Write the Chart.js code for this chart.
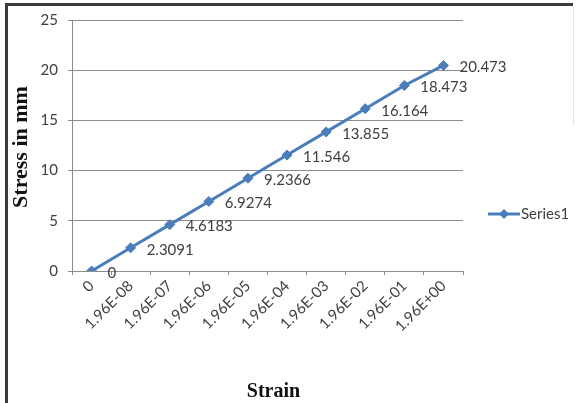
<!DOCTYPE html>
<html>
<head>
<meta charset="utf-8">
<script src="https://cdn.jsdelivr.net/npm/chart.js@4/dist/chart.umd.min.js"></script>
<style>
  html, body { margin: 0; padding: 0; background: #fff; }
  #wrap { width: 576px; height: 403px; position: relative; }
</style>
</head>
<body>
<div id="wrap"><canvas id="c" width="576" height="403"></canvas></div>
<script>
// Strain categories along the x axis
const strainLabels = ['0', '1.96E-08', '1.96E-07', '1.96E-06', '1.96E-05', '1.96E-04',
                      '1.96E-03', '1.96E-02', '1.96E-01', '1.96E+00'];
// Stress values for each strain step
const stressValues = [0, 2.3091, 4.6183, 6.9274, 9.2366, 11.546, 13.855, 16.164, 18.473, 20.473];
const seriesName = 'Series1';
const yTitle = 'Stress in mm';
const xTitle = 'Strain';

const lineBlue = '#4a7ebb';
const gridGray = '#8c8c8c';
const textGray = '#404040';
const labelFont = '15px Lato, "Liberation Sans", sans-serif';

// Value labels placed to the right of each point
const valueLabels = {
  id: 'valueLabels',
  afterDatasetsDraw(chart) {
    const ctx = chart.ctx;
    const meta = chart.getDatasetMeta(0);
    const values = chart.data.datasets[0].data;
    ctx.save();
    ctx.font = labelFont;
    ctx.fillStyle = textGray;
    ctx.textAlign = 'left';
    ctx.textBaseline = 'middle';
    meta.data.forEach((pt, i) => {
      ctx.fillText(String(values[i]), pt.x + 16, pt.y + 2);
    });
    ctx.restore();
  }
};

// Frame, axis titles and the side legend
const decorations = {
  id: 'decorations',
  beforeDraw(chart) {
    const ctx = chart.ctx;
    ctx.save();
    ctx.fillStyle = '#ffffff';
    ctx.fillRect(0, 0, chart.width, chart.height);
    ctx.restore();
  },
  afterDraw(chart) {
    const ctx = chart.ctx;
    const area = chart.chartArea;
    ctx.save();
    // frame edges
    ctx.fillStyle = '#3a3a3a';
    ctx.fillRect(5, 3, 3, chart.height - 3);
    ctx.fillRect(5, 3, 568, 3);
    ctx.fillStyle = '#e4e4e4';
    ctx.fillRect(573, 6, 1, 120);

    // axis titles
    ctx.fillStyle = '#111111';
    ctx.font = 'bold 20px "Liberation Serif", "DejaVu Serif", serif';
    ctx.textAlign = 'center';
    ctx.textBaseline = 'alphabetic';
    ctx.fillText(xTitle, (area.left + area.right) / 2 + 6, 397);

    ctx.save();
    ctx.translate(27, 147);
    ctx.rotate(-Math.PI / 2);
    ctx.font = 'bold 22px "Liberation Serif", "DejaVu Serif", serif';
    ctx.fillText(yTitle, 0, 0);
    ctx.restore();

    // legend entry
    const ly = 214;
    ctx.strokeStyle = lineBlue;
    ctx.lineWidth = 3;
    ctx.beginPath();
    ctx.moveTo(488, ly);
    ctx.lineTo(520, ly);
    ctx.stroke();
    ctx.fillStyle = lineBlue;
    ctx.beginPath();
    ctx.moveTo(504, ly - 5);
    ctx.lineTo(509, ly);
    ctx.lineTo(504, ly + 5);
    ctx.lineTo(499, ly);
    ctx.closePath();
    ctx.fill();
    ctx.fillStyle = textGray;
    ctx.font = labelFont;
    ctx.textAlign = 'left';
    ctx.textBaseline = 'middle';
    ctx.fillText(chart.data.datasets[0].label, 521, ly);
    ctx.restore();
  }
};

new Chart(document.getElementById('c'), {
  type: 'line',
  data: {
    labels: strainLabels,
    datasets: [{
      label: seriesName,
      data: stressValues,
      borderColor: lineBlue,
      backgroundColor: lineBlue,
      borderWidth: 3,
      pointStyle: 'rectRot',
      pointRadius: 5,
      pointBorderWidth: 1,
      pointBackgroundColor: lineBlue,
      pointBorderColor: lineBlue,
      tension: 0,
      fill: false
    }]
  },
  options: {
    responsive: false,
    animation: false,
    devicePixelRatio: 1,
    layout: { padding: { top: 20, right: 113, bottom: 0, left: 0 } },
    plugins: {
      legend: { display: false },
      title: { display: false },
      tooltip: { enabled: false }
    },
    scales: {
      x: {
        type: 'category',
        offset: true,
        grid: {
          offset: true,
          drawOnChartArea: false,
          drawTicks: true,
          tickLength: 4,
          color: gridGray
        },
        border: { display: true, color: gridGray, width: 1 },
        ticks: {
          autoSkip: false,
          minRotation: 45,
          maxRotation: 45,
          padding: 2,
          color: textGray,
          font: { family: 'Lato, "Liberation Sans", sans-serif', size: 15 }
        },
        afterFit(scale) { scale.height = 132; }
      },
      y: {
        min: 0,
        max: 25,
        ticks: {
          stepSize: 5,
          padding: 10,
          color: textGray,
          font: { family: 'Lato, "Liberation Sans", sans-serif', size: 15 }
        },
        grid: {
          color: gridGray,
          lineWidth: 1,
          drawTicks: true,
          tickLength: 4
        },
        border: { display: true, color: gridGray, width: 1 },
        afterFit(scale) { scale.width = 72; }
      }
    }
  },
  plugins: [valueLabels, decorations]
});
</script>
</body>
</html>
